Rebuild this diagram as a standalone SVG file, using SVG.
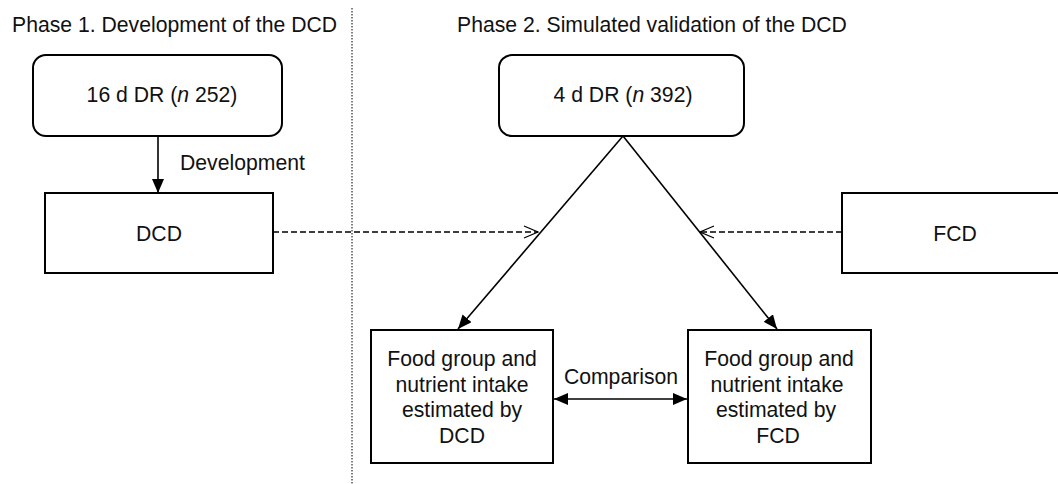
<svg xmlns="http://www.w3.org/2000/svg" width="1058" height="484" viewBox="0 0 1058 484">
<defs>
<style>
text{font-family:"Liberation Sans",Arial,sans-serif;font-size:21.2px;fill:#111}
.c{text-anchor:middle}
.box{fill:#fff;stroke:#000;stroke-width:2}
.ln{stroke:#000;stroke-width:1.6;fill:none}
.dash{stroke:#000;stroke-width:1.3;stroke-dasharray:6,3;fill:none}
</style>
<marker id="fa" viewBox="0 0 14 12" refX="14" refY="6" markerWidth="14" markerHeight="12" markerUnits="userSpaceOnUse" orient="auto-start-reverse">
<path d="M0,0 L14,6 L0,12 Z" fill="#000"/>
</marker>
<marker id="oa" viewBox="0 0 16 14" refX="15" refY="7" markerWidth="16" markerHeight="14" markerUnits="userSpaceOnUse" orient="auto">
<path d="M1,1 L15,7 L1,13" fill="none" stroke="#000" stroke-width="1.2"/>
</marker>
</defs>
<rect width="1058" height="484" fill="#fff"/>
<text x="12" y="32">Phase 1. Development of the DCD</text>
<text x="457" y="32">Phase 2. Simulated validation of the DCD</text>
<line x1="352" y1="8" x2="352" y2="484" stroke="#000" stroke-width="1" stroke-dasharray="1.5,1.5"/>
<g id="connectors">
<line class="ln" x1="158" y1="136" x2="158" y2="193" marker-end="url(#fa)"/>
<text x="180" y="170">Development</text>
<line class="dash" x1="273" y1="232" x2="538" y2="232" marker-end="url(#oa)"/>
<line class="dash" x1="842" y1="232" x2="700" y2="232" marker-end="url(#oa)"/>
<line class="ln" x1="623" y1="136" x2="458" y2="329" marker-end="url(#fa)"/>
<line class="ln" x1="623" y1="136" x2="777" y2="329" marker-end="url(#fa)"/>
<line class="ln" x1="554" y1="399" x2="687" y2="399" marker-start="url(#fa)" marker-end="url(#fa)"/>
<text class="c" x="621" y="384">Comparison</text>
</g>
<g id="n1">
<rect class="box" x="33" y="55" width="249" height="81" rx="13"/>
<text class="c" x="162" y="102">16 d DR (<tspan font-style="italic">n</tspan> 252)</text>
</g>
<g id="n2">
<rect class="box" x="45" y="193" width="228" height="80"/>
<text class="c" x="159" y="241">DCD</text>
</g>
<g id="n3">
<rect class="box" x="499" y="55" width="245" height="81" rx="13"/>
<text class="c" x="623" y="102">4 d DR (<tspan font-style="italic">n</tspan> 392)</text>
</g>
<g id="n4">
<rect class="box" x="842" y="193" width="228" height="80"/>
<text class="c" x="955" y="241">FCD</text>
</g>
<g id="n5">
<rect class="box" x="371" y="330" width="182" height="133"/>
<text class="c" x="462" y="366">Food group and</text>
<text class="c" x="462" y="392">nutrient intake</text>
<text class="c" x="462" y="417">estimated by</text>
<text class="c" x="462" y="443">DCD</text>
</g>
<g id="n6">
<rect class="box" x="688" y="330" width="183" height="133"/>
<text class="c" x="779" y="366">Food group and</text>
<text class="c" x="777" y="392">nutrient intake</text>
<text class="c" x="776" y="417">estimated by</text>
<text class="c" x="778" y="443">FCD</text>
</g>
</svg>
